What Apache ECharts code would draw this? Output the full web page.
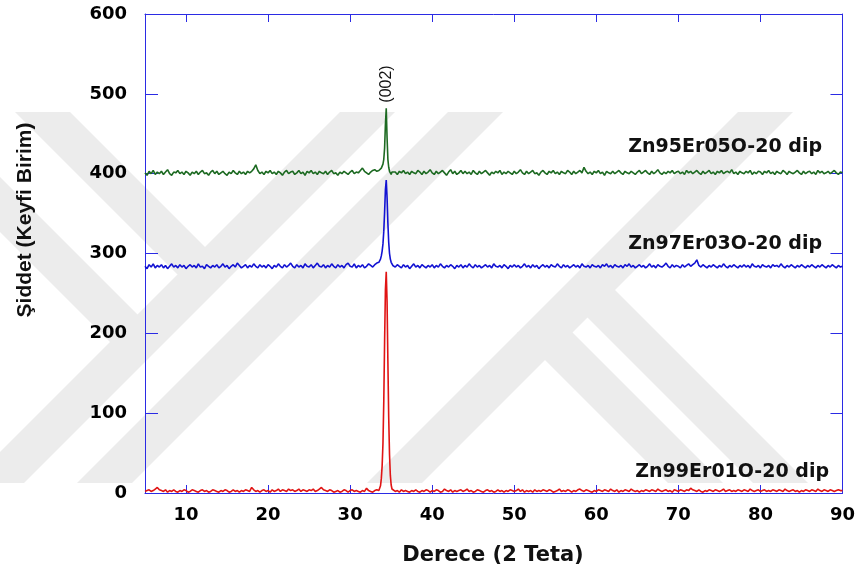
<!DOCTYPE html>
<html>
<head>
<meta charset="utf-8">
<script src="https://cdn.jsdelivr.net/npm/echarts@6/dist/echarts.min.js"></script>
<style>
  html, body { margin: 0; padding: 0; background: #ffffff; }
  #chart { width: 858px; height: 572px; }
</style>
</head>
<body>
<div id="chart"></div>
<script>
// 2θ scan positions (degrees); finer steps around the (002) reflection
const twoTheta = [
  5,5.25,5.5,5.75,6,6.25,6.5,6.75,
  7,7.25,7.5,7.75,8,8.25,8.5,8.75,
  9,9.25,9.5,9.75,10,10.25,10.5,10.75,
  11,11.25,11.5,11.75,12,12.25,12.5,12.75,
  13,13.25,13.5,13.75,14,14.25,14.5,14.75,
  15,15.25,15.5,15.75,16,16.25,16.5,16.75,
  17,17.25,17.5,17.75,18,18.25,18.5,18.75,
  19,19.25,19.5,19.75,20,20.25,20.5,20.75,
  21,21.25,21.5,21.75,22,22.25,22.5,22.75,
  23,23.25,23.5,23.75,24,24.25,24.5,24.75,
  25,25.25,25.5,25.75,26,26.25,26.5,26.75,
  27,27.25,27.5,27.75,28,28.25,28.5,28.75,
  29,29.25,29.5,29.75,30,30.25,30.5,30.75,
  31,31.25,31.5,31.75,32,32.25,32.5,32.75,
  33,33.25,33.5,
  33.6,33.7,33.8,33.9,34,34.1,34.2,34.3,34.4,34.5,34.6,34.7,34.8,34.9,35,35.1,35.2,
  35.5,35.75,
  36,36.25,36.5,36.75,37,37.25,37.5,37.75,
  38,38.25,38.5,38.75,39,39.25,39.5,39.75,
  40,40.25,40.5,40.75,41,41.25,41.5,41.75,
  42,42.25,42.5,42.75,43,43.25,43.5,43.75,
  44,44.25,44.5,44.75,45,45.25,45.5,45.75,
  46,46.25,46.5,46.75,47,47.25,47.5,47.75,
  48,48.25,48.5,48.75,49,49.25,49.5,49.75,
  50,50.25,50.5,50.75,51,51.25,51.5,51.75,
  52,52.25,52.5,52.75,53,53.25,53.5,53.75,
  54,54.25,54.5,54.75,55,55.25,55.5,55.75,
  56,56.25,56.5,56.75,57,57.25,57.5,57.75,
  58,58.25,58.5,58.75,59,59.25,59.5,59.75,
  60,60.25,60.5,60.75,61,61.25,61.5,61.75,
  62,62.25,62.5,62.75,63,63.25,63.5,63.75,
  64,64.25,64.5,64.75,65,65.25,65.5,65.75,
  66,66.25,66.5,66.75,67,67.25,67.5,67.75,
  68,68.25,68.5,68.75,69,69.25,69.5,69.75,
  70,70.25,70.5,70.75,71,71.25,71.5,71.75,
  72,72.25,72.5,72.75,73,73.25,73.5,73.75,
  74,74.25,74.5,74.75,75,75.25,75.5,75.75,
  76,76.25,76.5,76.75,77,77.25,77.5,77.75,
  78,78.25,78.5,78.75,79,79.25,79.5,79.75,
  80,80.25,80.5,80.75,81,81.25,81.5,81.75,
  82,82.25,82.5,82.75,83,83.25,83.5,83.75,
  84,84.25,84.5,84.75,85,85.25,85.5,85.75,
  86,86.25,86.5,86.75,87,87.25,87.5,87.75,
  88,88.25,88.5,88.75,89,89.25,89.5,89.75,
  90
];

// Intensities (arbitrary units), one value per scan position
const zn99Er01 = [
  2,3,4,2,3,5,7,4,
  3,2,4,1,3,2,4,2,
  1,3,2,4,3,1,2,4,
  3,2,1,3,4,2,3,1,
  2,4,3,2,1,3,2,4,
  3,1,2,4,2,3,1,3,
  2,4,3,2,7,4,2,3,
  1,3,4,2,3,1,4,2,
  3,5,2,4,3,2,5,3,
  4,2,3,5,2,4,3,2,
  4,3,5,2,3,5,7,4,
  3,2,4,3,1,2,3,1,
  2,4,3,1,3,4,2,3,
  2,1,3,2,6,3,2,1,
  3,4,3,
  5,9,18,34,62,115,190,255,277,240,165,95,48,22,10,5,3,
  2,3,
  1,4,2,3,2,1,3,2,
  4,2,1,3,2,4,3,1,
  3,2,4,3,1,2,5,3,
  2,4,1,3,2,3,4,2,
  3,5,2,3,1,2,4,3,
  2,1,3,4,2,3,1,2,
  4,2,3,1,3,2,4,3,
  2,3,5,2,4,1,3,2,
  3,1,4,2,3,2,4,3,
  2,4,3,1,2,3,5,2,
  3,2,4,3,1,3,2,4,
  5,3,2,4,3,2,1,3,
  2,4,3,2,4,3,2,5,
  3,2,4,1,3,2,4,3,
  2,5,3,2,3,1,3,2,
  4,3,2,4,3,2,5,3,
  2,3,4,2,3,1,4,3,
  2,4,3,2,4,3,6,4,
  3,2,4,2,1,3,2,4,
  3,2,4,3,2,3,5,2,
  3,4,2,3,2,4,3,2,
  4,3,2,5,3,2,3,4,
  2,3,4,2,3,2,4,3,
  2,4,3,2,5,3,2,3,
  4,2,3,1,3,2,4,3,
  2,4,3,2,5,3,2,4,
  3,2,4,3,2,3,4,3,
  3
];

const zn97Er03 = [
  284,281,286,283,287,282,285,283,
  286,282,285,281,284,287,283,285,
  282,286,283,285,281,284,286,283,
  285,282,287,283,284,281,286,284,
  282,285,283,286,282,284,287,283,
  285,281,284,286,283,288,285,282,
  284,286,282,285,283,287,284,282,
  286,283,285,282,286,284,281,285,
  283,287,284,282,286,283,285,288,
  284,282,286,283,285,282,287,284,
  283,286,282,285,288,284,283,286,
  282,285,283,287,284,282,286,283,
  285,282,286,288,284,283,287,282,
  285,283,286,282,284,287,285,283,
  286,288,289,
  290,293,297,303,312,328,352,380,392,370,338,314,300,293,289,287,285,
  283,286,
  284,282,286,283,285,281,284,287,
  283,285,282,286,284,282,285,283,
  286,282,285,283,287,284,282,285,
  283,286,284,281,285,283,286,282,
  285,283,287,284,282,286,283,285,
  282,284,286,283,285,282,287,284,
  283,285,282,286,284,281,285,283,
  286,283,285,282,284,287,283,285,
  282,286,283,285,281,284,286,283,
  285,282,286,284,283,287,284,282,
  286,283,285,282,284,286,283,285,
  282,287,284,283,285,282,286,284,
  283,285,282,286,284,287,283,285,
  282,286,284,283,285,282,286,284,
  287,283,285,282,284,286,283,285,
  282,284,287,283,285,282,286,284,
  283,285,288,284,282,286,283,285,
  284,282,286,283,285,287,284,286,
  288,292,285,283,286,284,282,285,
  283,286,284,282,285,283,287,284,
  282,285,283,286,284,282,285,283,
  286,283,285,282,287,284,283,285,
  282,286,284,283,285,282,286,284,
  285,283,287,284,282,285,283,286,
  284,282,285,283,286,284,282,285,
  283,286,284,282,285,283,286,284,
  282,285,283,286,284,282,285,283,
  284
];

const zn95Er05 = [
  401,398,403,400,404,399,402,400,
  403,399,402,405,400,398,402,401,
  404,400,402,399,403,401,398,402,
  400,403,399,402,404,400,401,398,
  402,404,400,403,399,401,403,400,
  398,402,400,404,401,399,403,400,
  402,399,403,401,403,406,411,404,
  400,402,399,403,401,404,400,402,
  399,403,401,398,402,404,400,402,
  403,399,401,404,400,402,398,403,
  401,404,400,402,399,403,401,400,
  403,399,402,404,400,401,398,402,
  400,403,401,399,402,404,400,402,
  401,404,407,403,401,399,402,404,
  405,403,404,
  403,405,407,409,412,418,432,462,482,445,418,408,403,401,399,402,400,
  402,399,
  403,401,404,400,402,399,403,401,
  400,404,402,399,403,400,402,405,
  401,399,403,400,402,404,401,398,
  402,405,400,403,399,401,404,400,
  403,400,402,399,404,401,399,403,
  400,402,404,401,398,402,400,403,
  401,404,399,402,400,403,401,399,
  403,400,402,405,401,399,403,400,
  402,404,400,401,398,402,404,401,
  399,403,401,404,400,402,399,403,
  401,400,404,402,399,403,400,402,
  404,401,408,403,400,402,399,403,
  401,404,400,402,398,403,401,400,
  403,400,402,404,401,399,403,401,
  400,403,401,399,402,404,400,402,
  404,401,399,403,400,402,405,401,
  399,402,400,403,401,404,400,402,
  403,400,402,399,404,401,403,400,
  402,404,401,399,403,400,402,404,
  400,402,399,403,401,404,400,402,
  403,401,405,400,402,399,403,401,
  400,403,401,404,399,402,400,403,
  402,399,403,401,404,400,402,399,
  403,401,400,404,402,399,403,401,
  400,402,404,401,399,403,400,402,
  403,400,402,399,404,401,403,400,
  401,403,400,402,404,401,399,402,
  401
];

const sampleNames = ['Zn99Er01O-20 dip', 'Zn97Er03O-20 dip', 'Zn95Er05O-20 dip'];
const sampleColors = ['#e01414', '#1212d2', '#1d6a22'];
const xTickValues = [10, 20, 30, 40, 50, 60, 70, 80, 90];
const peakLabel = '(002)';
const xTitle = 'Derece (2 Teta)';
const yTitle = 'Şiddet (Keyfi Birim)';

const AXIS_BLUE = '#2b2be4';
const tickLabelStyle = { fontFamily: 'DejaVu Sans', fontWeight: 'bold', fontSize: 18, color: '#000' };

function toPairs(values) {
  return twoTheta.map((t, i) => [t, values[i]]);
}

// Faint diagonal bands of the page background logo
const WM_TOP = 112, WM_BOTTOM = 483, WM_WIDTH = 55;
function band(xAtTop, dir, y0, y1) {
  const xa = xAtTop + dir * (y0 - WM_TOP);
  const xb = xAtTop + dir * (y1 - WM_TOP);
  return {
    type: 'polygon', z: -10, silent: true,
    shape: { points: [[xa, y0], [xa + WM_WIDTH, y0], [xb + WM_WIDTH, y1], [xb, y1]] },
    style: { fill: '#ececec' }
  };
}
const watermark = [
  band(-120, 1, WM_TOP, 342),
  band(15, 1, WM_TOP, 274.5),
  band(340, -1, WM_TOP, WM_BOTTOM),
  band(448, -1, WM_TOP, WM_BOTTOM),
  band(738, -1, WM_TOP, WM_BOTTOM),
  band(382, 1, 290, WM_BOTTOM),
  band(297, 1, 332, WM_BOTTOM)
];

const labelFont = 'bold 19px "DejaVu Sans"';
const texts = [
  { type: 'text', x: 822, y: 147, z: 10, style: { text: sampleNames[2], font: labelFont, fill: '#111', align: 'right', verticalAlign: 'middle' } },
  { type: 'text', x: 822, y: 244, z: 10, style: { text: sampleNames[1], font: labelFont, fill: '#111', align: 'right', verticalAlign: 'middle' } },
  { type: 'text', x: 829, y: 472, z: 10, style: { text: sampleNames[0], font: labelFont, fill: '#111', align: 'right', verticalAlign: 'middle' } },
  { type: 'text', x: 387, y: 84, z: 10, rotation: Math.PI / 2, style: { text: peakLabel, font: '16px "Liberation Sans"', fill: '#111', align: 'center', verticalAlign: 'middle' } },
  { type: 'text', x: 493, y: 556, z: 10, style: { text: xTitle, font: 'bold 21px "DejaVu Sans"', fill: '#111', align: 'center', verticalAlign: 'middle' } },
  { type: 'text', x: 25, y: 220, z: 10, rotation: Math.PI / 2, style: { text: yTitle, font: 'bold 21px "Liberation Sans"', fill: '#111', align: 'center', verticalAlign: 'middle' } }
];

const axisLineStyle = { show: true, onZero: false, lineStyle: { color: AXIS_BLUE, width: 1 } };

const chart = echarts.init(document.getElementById('chart'), null, { renderer: 'canvas' });
chart.setOption({
  animation: false,
  backgroundColor: '#ffffff',
  grid: { left: 145, right: 15, top: 14, bottom: 79 },
  xAxis: [
    {
      type: 'value', min: 5, max: 90, position: 'bottom',
      axisLine: axisLineStyle,
      axisTick: { show: true, inside: true, length: 8, customValues: xTickValues, lineStyle: { color: AXIS_BLUE } },
      axisLabel: Object.assign({ show: true, margin: 13, customValues: xTickValues }, tickLabelStyle),
      splitLine: { show: false }
    },
    {
      type: 'value', min: 5, max: 90, position: 'top',
      axisLine: axisLineStyle,
      axisTick: { show: true, inside: true, length: 8, customValues: xTickValues, lineStyle: { color: AXIS_BLUE } },
      axisLabel: { show: false },
      splitLine: { show: false }
    }
  ],
  yAxis: [
    {
      type: 'value', min: 0, max: 600, interval: 100, position: 'left',
      axisLine: axisLineStyle,
      axisTick: { show: true, inside: true, length: 13, lineStyle: { color: AXIS_BLUE } },
      axisLabel: Object.assign({ show: true, margin: 18 }, tickLabelStyle),
      splitLine: { show: false }
    },
    {
      type: 'value', min: 0, max: 600, interval: 100, position: 'right',
      axisLine: axisLineStyle,
      axisTick: { show: true, inside: true, length: 12, lineStyle: { color: AXIS_BLUE } },
      axisLabel: { show: false },
      splitLine: { show: false }
    }
  ],
  series: [zn99Er01, zn97Er03, zn95Er05].map((values, i) => ({
    name: sampleNames[i],
    type: 'line',
    xAxisIndex: 0,
    yAxisIndex: 0,
    data: toPairs(values),
    showSymbol: false,
    symbol: 'none',
    lineStyle: { color: sampleColors[i], width: 1.6 },
    itemStyle: { color: sampleColors[i] },
    z: 3
  })),
  graphic: { elements: watermark.concat(texts) }
});
</script>
</body>
</html>
